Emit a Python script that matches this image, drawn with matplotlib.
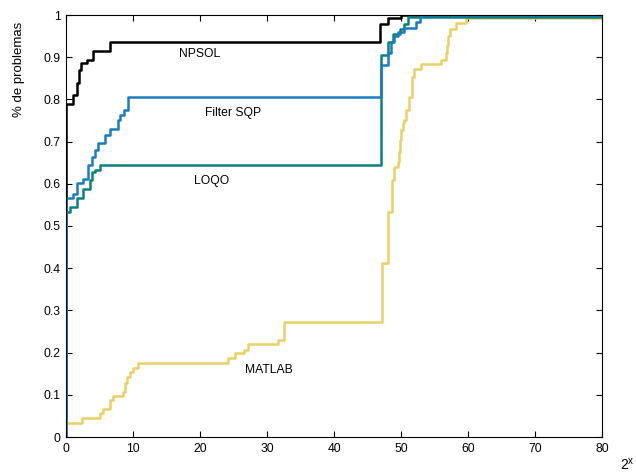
import matplotlib
matplotlib.use("Agg")
import matplotlib.pyplot as plt

# performance profile data (step curves)
npsol_x = [0, 0, 1.1, 1.6, 1.9, 2.3, 3.1, 4.1, 6.5, 46.9, 48.0, 50.0, 80]
npsol_y = [0, 0.79, 0.81, 0.84, 0.87, 0.886, 0.893, 0.915, 0.937, 0.979, 0.992, 1.0, 1.0]

matlab_x = [0, 0, 2.33, 5.07, 5.56, 6.56, 6.95, 8.44, 8.79, 9.04, 9.54, 10.03, 10.68,
            24.2, 25.2, 26.5, 27.2, 31.6, 32.6, 47.1, 48.1, 48.7, 49.0, 49.5, 49.65,
            49.85, 50.0, 50.25, 50.45, 50.75, 51.15, 51.6, 52.0, 53.0, 56.0, 56.7,
            56.85, 57.05, 57.3, 58.2, 59.7, 80]
matlab_y = [0, 0.034, 0.044, 0.056, 0.066, 0.088, 0.098, 0.107, 0.127, 0.143, 0.155, 0.164, 0.175,
            0.187, 0.199, 0.206, 0.22, 0.23, 0.272, 0.413, 0.534, 0.609, 0.64, 0.652, 0.676,
            0.704, 0.727, 0.744, 0.751, 0.775, 0.806, 0.854, 0.871, 0.884, 0.893, 0.91,
            0.93, 0.95, 0.968, 0.98, 0.992, 0.992]

loqo_x = [0, 0, 0.6, 1.59, 2.48, 3.58, 3.92, 4.3, 5.07, 47.0, 48.0, 48.8, 49.8, 50.5, 51.0, 80]
loqo_y = [0, 0.534, 0.546, 0.566, 0.587, 0.609, 0.629, 0.633, 0.645, 0.905, 0.937, 0.956, 0.968, 0.979, 0.995, 0.995]

sqp_x = [0, 0, 0.99, 1.59, 2.48, 3.33, 3.82, 4.32, 4.82, 5.81, 6.56, 7.80, 8.05, 8.64, 9.29,
         47.0, 48.0, 48.5, 49.0, 49.5, 50.5, 52.2, 52.9, 80]
sqp_y = [0, 0.567, 0.577, 0.601, 0.611, 0.645, 0.664, 0.680, 0.697, 0.716, 0.729, 0.751, 0.763, 0.775, 0.806,
         0.881, 0.909, 0.937, 0.95, 0.96, 0.97, 0.984, 1.0, 1.0]

x_ticks = [0, 10, 20, 30, 40, 50, 60, 70, 80]
y_ticks = [0, 0.1, 0.2, 0.3, 0.4, 0.5, 0.6, 0.7, 0.8, 0.9, 1]
y_tick_labels = ["0", "0.1", "0.2", "0.3", "0.4", "0.5", "0.6", "0.7", "0.8", "0.9", "1"]

plt.rcParams['font.family'] = ['Liberation Sans', 'DejaVu Sans']

fig = plt.figure(figsize=(6.36, 4.72), dpi=100)
ax = fig.add_axes([66 / 636, 35 / 472, 536 / 636, 422 / 472])

lw = 1.8
ax.step(npsol_x, npsol_y, where='post', color='black', linewidth=lw)
ax.step(matlab_x, matlab_y, where='post', color='#ebd164', linewidth=lw)
ax.step(loqo_x, loqo_y, where='post', color='#0b8080', linewidth=lw)
ax.step(sqp_x, sqp_y, where='post', color='#1a7cc1', linewidth=lw)

ax.set_xlim(0, 80)
ax.set_ylim(0, 1)
ax.set_xticks(x_ticks)
ax.set_yticks(y_ticks)
ax.set_yticklabels(y_tick_labels)
ax.tick_params(direction='in', top=True, right=True, length=4, width=0.8,
               labelsize=8.7, pad=4)
for s in ax.spines.values():
    s.set_linewidth(0.8)

ax.set_ylabel('% de problemas', fontsize=9.5)
ax.yaxis.set_label_coords(-0.077, 0.872)

ax.text(20.0, 0.908, 'NPSOL', fontsize=8.7, ha='center', va='center')
ax.text(25.0, 0.768, 'Filter SQP', fontsize=8.7, ha='center', va='center')
ax.text(21.8, 0.607, 'LOQO', fontsize=8.7, ha='center', va='center')
ax.text(30.3, 0.159, 'MATLAB', fontsize=8.7, ha='center', va='center')

fig.text(627 / 636, 1 - 465 / 472, r'$\mathregular{2^x}$', fontsize=10, ha='center', va='center')

fig.savefig('out.png', dpi=100)
